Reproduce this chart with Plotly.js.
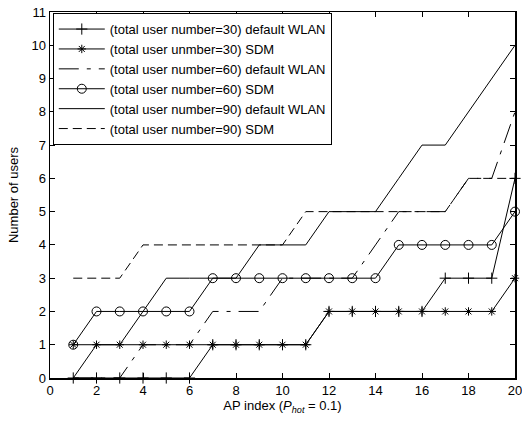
<!DOCTYPE html>
<html>
<head>
<meta charset="utf-8">
<script src="https://cdn.plot.ly/plotly-3.0.1.min.js"></script>
<style>
html, body { margin: 0; padding: 0; background: #fff; }
#chart { width: 522px; height: 421px; }
</style>
</head>
<body>
<div id="chart"></div>
<script>
const apIndex = [1,2,3,4,5,6,7,8,9,10,11,12,13,14,15,16,17,18,19,20];
const n30Default = [0,0,0,0,0,0,1,1,1,1,1,2,2,2,2,2,3,3,3,6];
const n30SDM     = [1,1,1,1,1,1,1,1,1,1,1,2,2,2,2,2,2,2,2,3];
const n60Default = [0,0,0,1,1,1,2,2,2,3,3,3,3,4,5,5,5,6,6,8];
const n60SDM     = [1,2,2,2,2,2,3,3,3,3,3,3,3,3,4,4,4,4,4,5];
const n90Default = [0,1,1,2,3,3,3,3,4,4,4,5,5,5,6,7,7,8,9,10];
const n90SDM     = [3,3,3,4,4,4,4,4,4,4,5,5,5,5,5,5,5,6,6,6];
const seriesNames = [
  "(total user number=30) default WLAN",
  "(total user unmber=30) SDM",
  "(total user number=60) default WLAN",
  "(total user number=60) SDM",
  "(total user number=90) default WLAN",
  "(total user number=90) SDM"
];
const xTickVals = [0,2,4,6,8,10,12,14,16,18,20];
const yTickVals = [0,1,2,3,4,5,6,7,8,9,10,11];

const FONT = "Liberation Sans, Arial, Helvetica, sans-serif";
const black = "#000";

function tr(y, name, mode, dash, symbol, msize) {
  const t = {
    x: apIndex, y: y, name: name, type: "scatter", mode: mode,
    line: { color: black, width: 1, dash: dash },
    cliponaxis: false
  };
  if (symbol) {
    t.marker = { symbol: symbol, size: msize, color: black,
                 line: { color: black, width: 1 } };
  }
  return t;
}

const data = [
  tr(n30Default, seriesNames[0], "lines+markers", "solid", "cross-thin-open", 8),
  tr(n30SDM, seriesNames[1], "lines+markers", "solid", "asterisk-open", 7),
  tr(n60Default, seriesNames[2], "lines", "20px,8px,4px,8px", null, 0),
  tr(n60SDM, seriesNames[3], "lines+markers", "solid", "circle-open", 9),
  tr(n90Default, seriesNames[4], "lines", "solid", null, 0),
  tr(n90SDM, seriesNames[5], "lines", "9px,5px", null, 0)
];

const layout = {
  width: 522, height: 421,
  margin: { l: 50, r: 7, t: 12, b: 43, pad: 0 },
  paper_bgcolor: "#fff", plot_bgcolor: "#fff",
  font: { family: FONT, size: 13, color: black },
  showlegend: true,
  legend: {
    x: 0.006, y: 0.997, xanchor: "left", yanchor: "top",
    bgcolor: "#fff", bordercolor: black, borderwidth: 1,
    font: { family: FONT, size: 13, color: black },
    tracegroupgap: 0, itemwidth: 46
  },
  xaxis: {
    range: [0, 20], tickvals: xTickVals, ticktext: xTickVals.map(String),
    ticks: "inside", ticklen: 5, tickcolor: black, tickwidth: 1,
    showline: true, linecolor: black, linewidth: 1.5, mirror: "allticks",
    showgrid: false, zeroline: false, ticklabeloverflow: "allow",
    tickfont: { family: FONT, size: 13, color: black },
    title: { text: "AP index (<i>P</i><sub><i>hot</i></sub> = 0.1)",
             font: { family: FONT, size: 13, color: black }, standoff: 4 }
  },
  yaxis: {
    range: [0, 11], tickvals: yTickVals, ticktext: yTickVals.map(String),
    ticks: "inside", ticklen: 5, tickcolor: black, tickwidth: 1,
    showline: true, linecolor: black, linewidth: 1.5, mirror: "allticks",
    showgrid: false, zeroline: false, ticklabeloverflow: "allow",
    tickfont: { family: FONT, size: 13, color: black },
    title: { text: "Number of users",
             font: { family: FONT, size: 13, color: black }, standoff: 10 }
  }
};

Plotly.newPlot("chart", data, layout, { displayModeBar: false, staticPlot: true });
</script>
</body>
</html>
